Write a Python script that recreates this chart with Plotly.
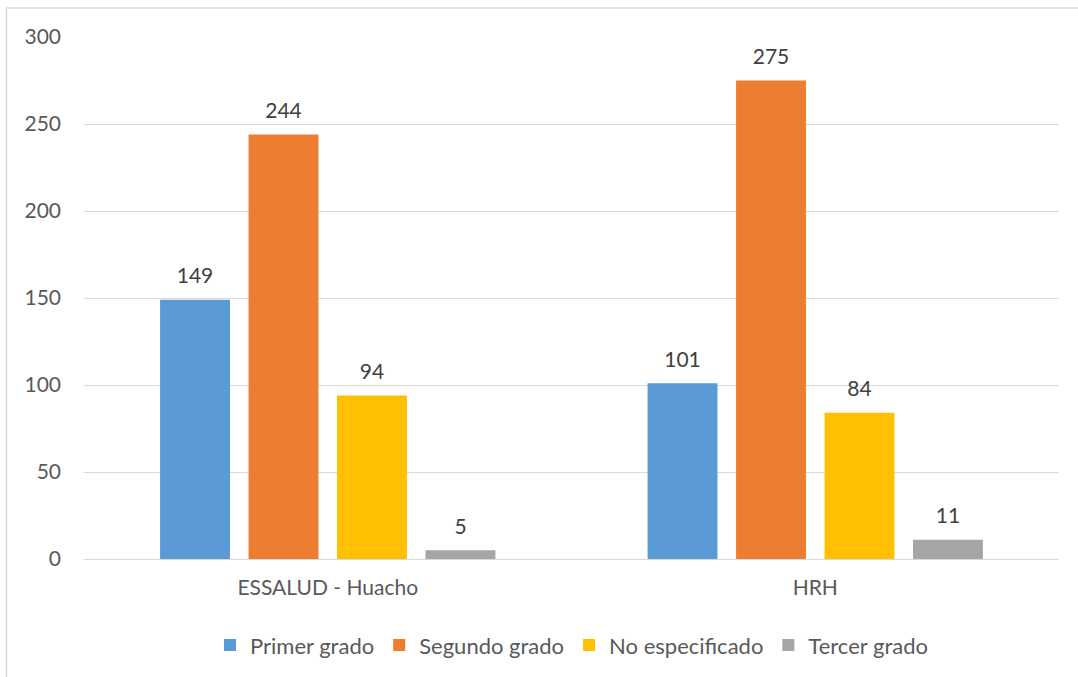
import plotly.graph_objects as go

categories = ["ESSALUD - Huacho", "HRH"]
series_names = ["Primer grado", "Segundo grado", "No especificado", "Tercer grado"]
primer = [149, 101]
segundo = [244, 275]
no_esp = [94, 84]
tercer = [5, 11]
colors = ["#5B9BD5", "#ED7D31", "#FFC000", "#A5A5A5"]
y_ticks = [0, 50, 100, 150, 200, 250, 300]

FONT = "Lato"
TXT = "#595959"

fig = go.Figure()
for name, vals, col in zip(series_names, [primer, segundo, no_esp, tercer], colors):
    fig.add_trace(go.Bar(
        name=name, x=categories, y=vals, marker_color=col, marker_line_width=0,
        text=[f"<span style='font-size:21px'>{v}</span><br> " for v in vals],
        textposition="outside",
        textfont=dict(size=9, color="#404040", family=FONT),
        cliponaxis=False,
    ))

fig.update_layout(
    width=1078, height=677,
    margin=dict(l=84, r=19, t=37, b=117),
    paper_bgcolor="white", plot_bgcolor="white",
    barmode="group", bargap=0.274, bargroupgap=0.21,
    font=dict(family=FONT, size=21, color=TXT),
    showlegend=True,
    legend=dict(orientation="h", x=0.5, xanchor="center", y=-0.163, yanchor="middle",
                font=dict(size=22, color=TXT, family=FONT),
                traceorder="normal"),
    xaxis=dict(showgrid=False, showline=False, ticks="", ticklabelstandoff=14,
               tickfont=dict(size=21, color=TXT)),
    yaxis=dict(range=[0, 300], tickvals=y_ticks, showgrid=True, gridcolor="#D9D9D9",
               gridwidth=1, zeroline=True, zerolinecolor="#D9D9D9", zerolinewidth=1,
               showline=False, ticks="", ticklabelstandoff=22,
               tickfont=dict(size=21, color=TXT)),
    shapes=[dict(type="rect", xref="paper", yref="paper",
                 x0=-0.0795, x1=1.04, y0=-0.26, y1=1.0555,
                 line=dict(color="#D9D9D9", width=1.5), fillcolor="rgba(0,0,0,0)",
                 layer="below")],
)

fig.write_html("out.html")
